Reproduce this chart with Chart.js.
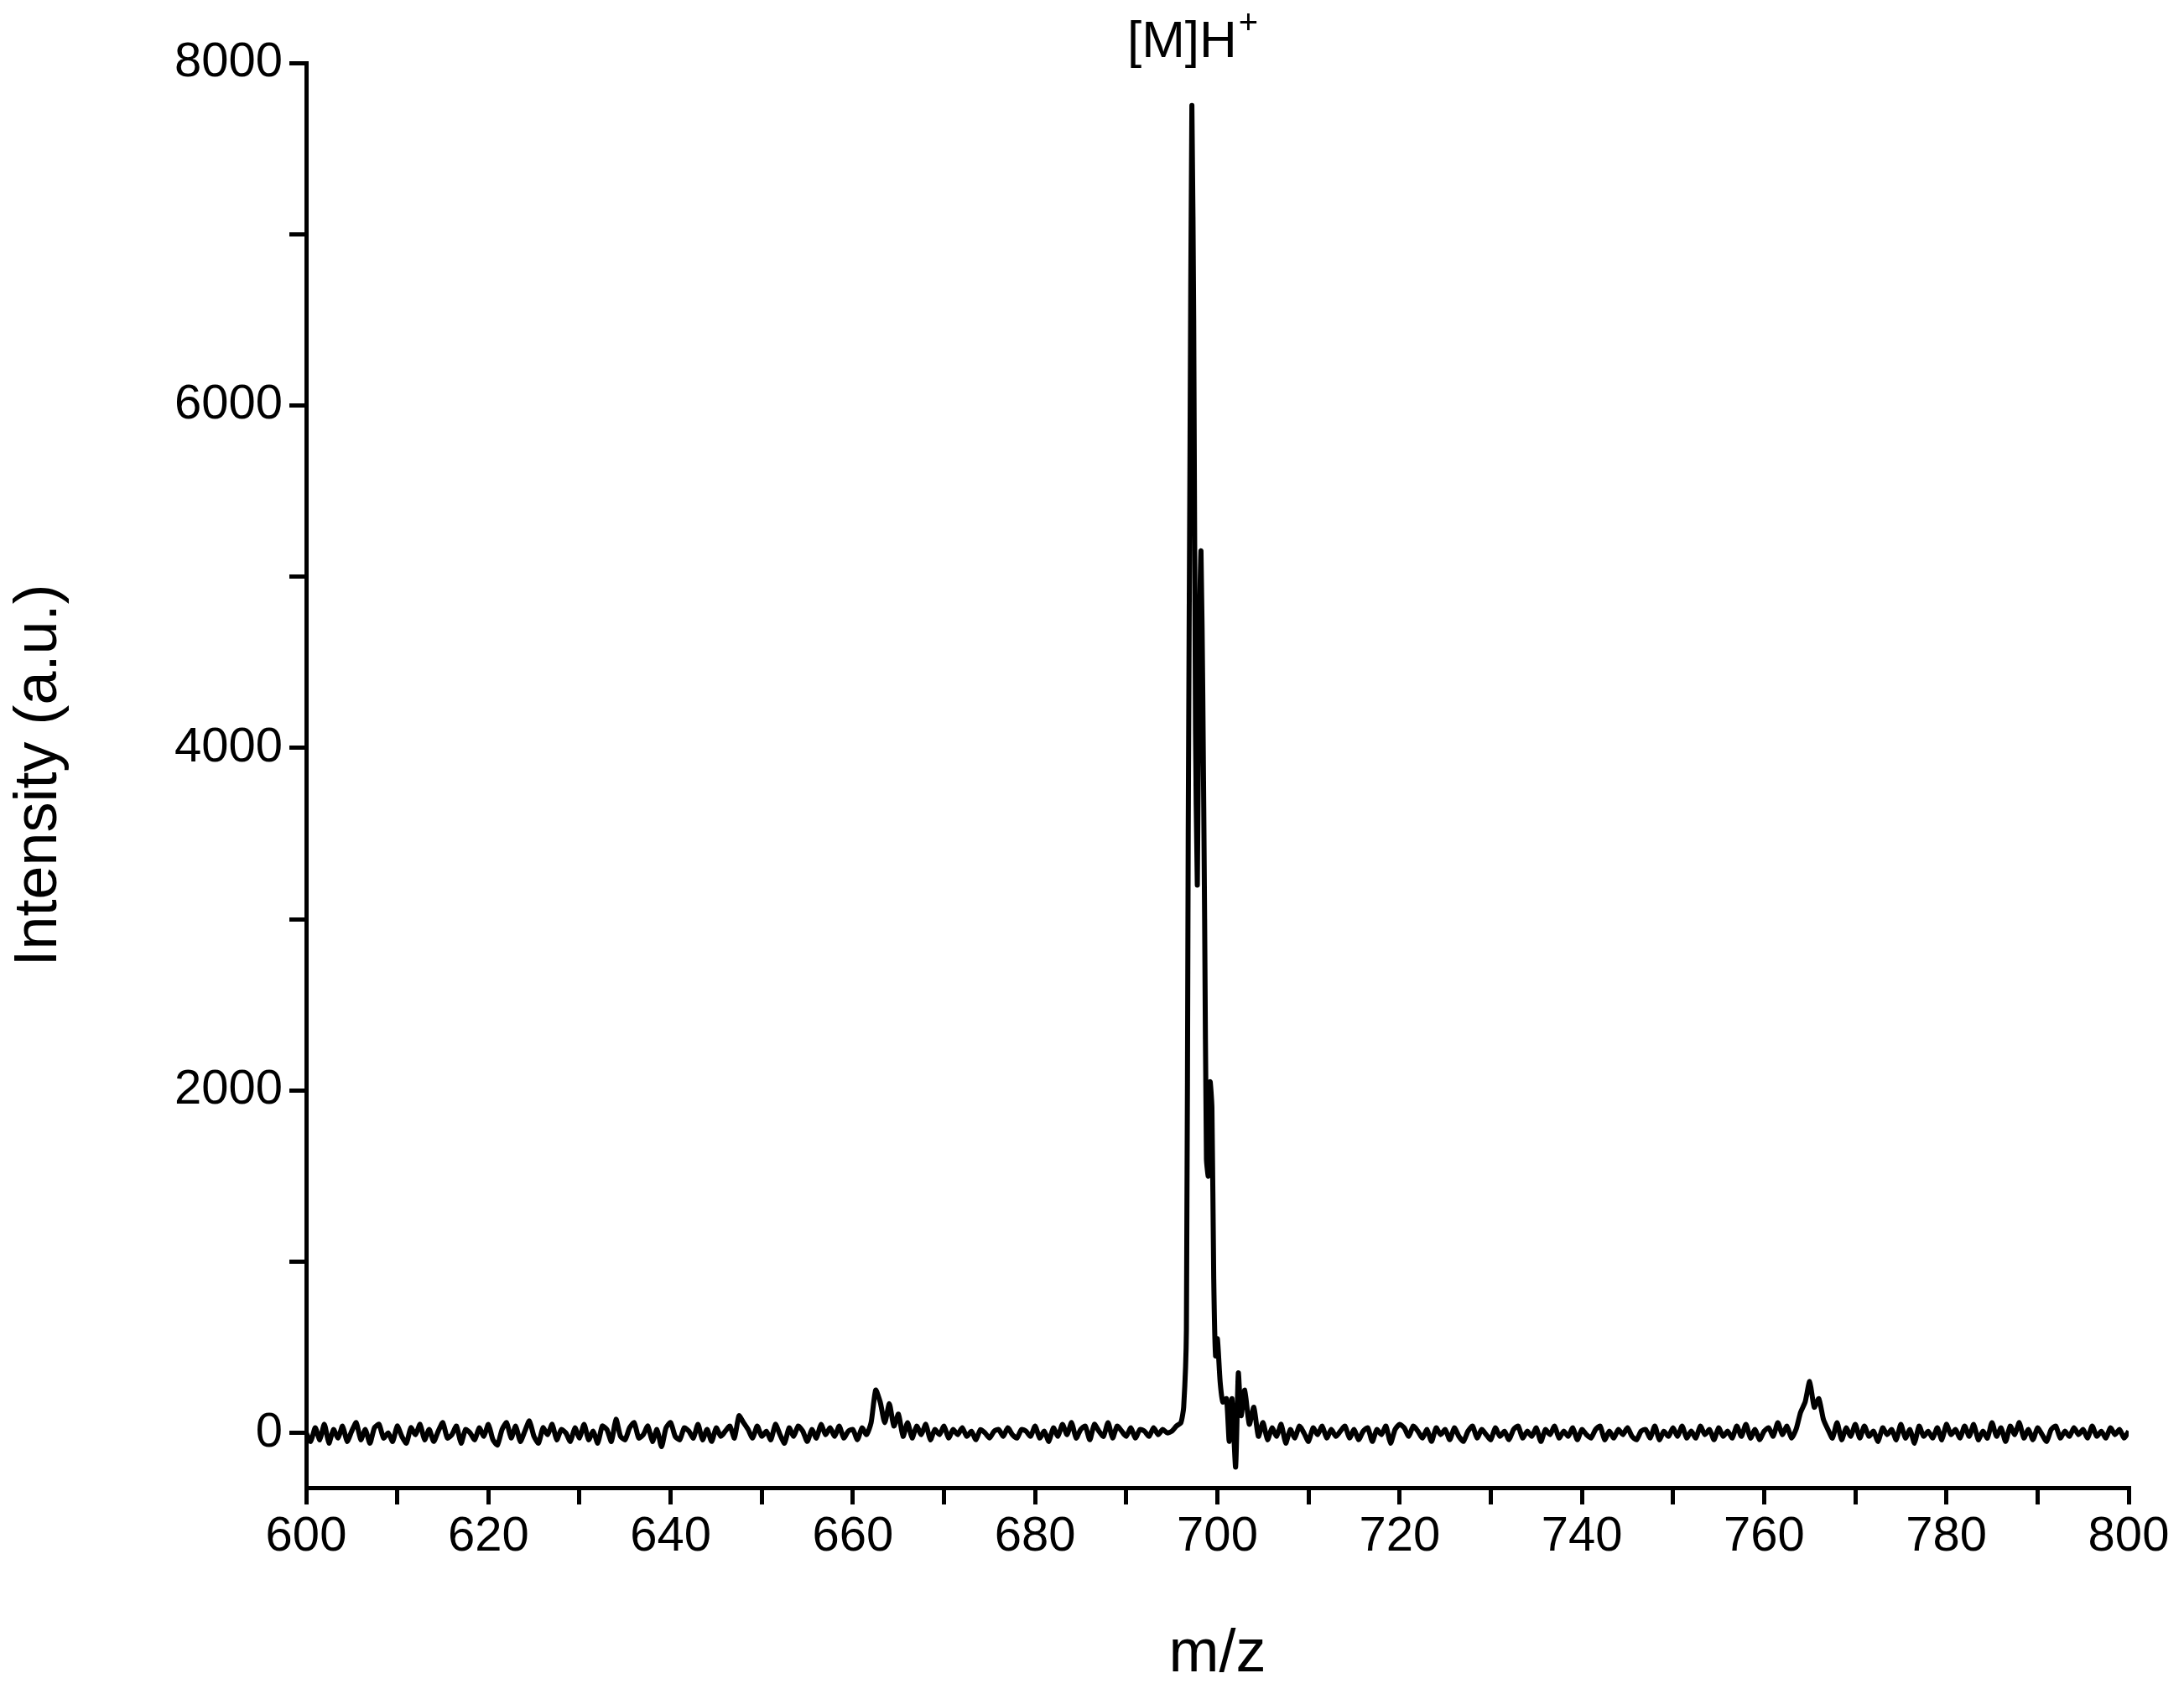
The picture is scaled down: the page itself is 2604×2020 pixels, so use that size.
<!DOCTYPE html>
<html><head><meta charset="utf-8">
<script src="https://cdn.jsdelivr.net/npm/chart.js@4"></script>
<style>html,body{margin:0;padding:0;background:#fff}#w{width:2604px;height:2020px}</style>
</head><body><div id="w"><canvas id="c"></canvas></div>
<script>
const xTickLabels=['600','620','640','660','680','700','720','740','760','780','800'];
const yTickLabels=['0','2000','4000','6000','8000'];
const annotationText='[M]H';
const annotationMz=697.2;
// background 600–696, step 0.5
const bgLeftStart=600;
const bgLeft=[0,-50,30,-40,50,-60,20,-30,40,-50,10,60,-40,20,-60,30,50,-30,0,-50,
40,-20,-60,30,-10,50,-40,20,-50,10,60,-30,-10,40,-60,20,0,-40,30,-20,
50,-40,-70,20,60,-30,40,-50,10,70,-20,-60,30,-10,50,-40,20,0,-50,30,
-30,50,-40,10,-60,40,20,-50,80,-20,-40,30,60,-30,-10,40,-50,20,-80,30,
60,-20,-40,30,10,-30,50,-40,20,-50,30,-20,10,40,-30,100,60,20,-30,40,
-20,10,-40,50,-10,-60,30,-20,40,10,-50,20,-30,50,-10,30,-20,40,-30,10,
20,-40,30,-10,60,250,180,60,170,40,110,-20,60,-30,40,-10,50,-40,20,-10,
40,-30,20,-10,30,-20,10,-40,20,0,-30,10,20,-20,30,-10,-30,20,10,-20,
40,-30,10,-50,30,-20,50,-10,60,-30,20,40,-40,50,10,-20,60,-30,40,10,
-20,30,-30,20,10,-20,30,-10,20,0,10,40,60];
// main peak region
const peakMz=[696.3,696.6,696.8,697.0,697.2,697.4,697.6,697.8,698.0,698.2,698.4,698.6,698.8,699.0,699.2,699.4,699.6,699.8,700.0,700.3,700.6,701.0,701.3,701.6,702.0,702.3,702.6,703.0,703.5,704.0,704.5];
const peakInt=[150,600,3500,5800,7750,6500,4100,3200,4600,5150,4300,3000,1600,1500,2050,1900,900,450,550,300,180,200,-50,200,-200,350,100,250,50,150,-20];
// background 705–800, step 0.5
const bgRightStart=705;
const bgRight=[60,-40,30,-20,50,-60,20,-30,40,0,-50,30,-10,40,-30,20,-20,10,40,-30,
20,-40,10,30,-50,20,-10,40,-60,20,50,30,-20,40,10,-30,20,-50,30,-10,
20,-40,30,-20,-50,10,40,-30,20,-10,-40,30,-20,10,-40,20,40,-30,10,-20,
30,-50,20,-10,40,-30,10,-20,30,-40,20,-10,-30,20,40,-40,10,-30,20,-10,
30,-20,-40,10,20,-30,40,-40,10,-20,30,-20,40,-30,10,-30,40,-10,20,-40,
30,-20,10,-30,40,-20,50,-30,20,-40,10,30,-20,60,-10,40,-30,20,120,180,
300,150,200,80,20,-30,60,-40,30,-20,50,-30,40,-20,10,-50,30,-10,20,-40,
50,-30,20,-60,40,-20,10,-30,30,-40,50,-10,20,-30,40,-20,50,-40,10,-30,
60,-20,30,-50,40,-10,60,-30,20,-40,30,-10,-50,20,40,-30,10,-20,30,-10,
20,-30,40,-20,10,-30,30,-10,20,-30,10];

const pts=[];
bgLeft.forEach((v,i)=>pts.push({x:bgLeftStart+i*0.5,y:v}));
peakMz.forEach((m,i)=>pts.push({x:m,y:peakInt[i]}));
bgRight.forEach((v,i)=>pts.push({x:bgRightStart+i*0.5,y:v}));

const F='"Liberation Sans", Arial, sans-serif';
const annot={id:'annot',afterDraw(ch){
  const c=ch.ctx,x=ch.scales.x.getPixelForValue(annotationMz);
  c.save();c.fillStyle='#000';c.font='62px '+F;c.textBaseline='alphabetic';
  const w=c.measureText(annotationText).width;c.font='40px '+F;const w2=c.measureText('+').width;
  const x0=x-(w+w2)/2;c.font='62px '+F;c.fillText(annotationText,x0,68);
  c.font='40px '+F;c.fillText('+',x0+w+2,40);c.restore();}};

new Chart(document.getElementById('c'),{type:'line',
 data:{datasets:[{data:pts,borderColor:'#000',borderWidth:6,pointRadius:0,tension:0.2,fill:false}]},
 options:{responsive:true,maintainAspectRatio:false,animation:false,
  layout:{padding:{top:75,right:66,left:0,bottom:0}},
  plugins:{legend:{display:false},tooltip:{enabled:false}},
  scales:{
   x:{type:'linear',min:600,max:800,
     afterFit(s){s.height=246;},
     afterBuildTicks(s){const t=[];for(let v=600;v<=800;v+=10)t.push({value:v});s.ticks=t;},
     ticks:{autoSkip:false,maxRotation:0,color:'#000',font:{family:F,size:58},padding:4,
       callback:v=>xTickLabels.includes(String(v))?String(v):''},
     grid:{drawOnChartArea:false,color:'#000',lineWidth:5,tickLength:20,tickColor:'#000'},
     border:{color:'#000',width:5},
     title:{display:true,text:'m/z',color:'#000',font:{family:F,size:72},padding:{top:24}}},
   y:{min:-320,max:8000,
     afterFit(s){s.width=365;},
     afterBuildTicks(s){const t=[];for(let v=0;v<=8000;v+=1000)t.push({value:v});s.ticks=t;},
     ticks:{autoSkip:false,color:'#000',font:{family:F,size:58},padding:8,
       callback:v=>yTickLabels.includes(String(v))?String(v):''},
     grid:{drawOnChartArea:false,color:'#000',lineWidth:5,tickLength:20,tickColor:'#000'},
     border:{color:'#000',width:5},
     title:{display:true,text:'Intensity (a.u.)',color:'#000',font:{family:F,size:72},padding:{bottom:24}}}
  }},plugins:[annot]});
</script></body></html>
